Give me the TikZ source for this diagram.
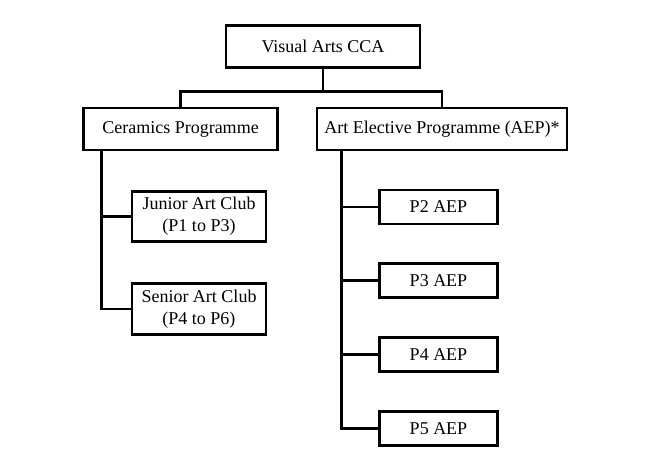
\documentclass[tikz,border=0pt]{standalone}
\usepackage{fontspec}
\setmainfont{Liberation Serif}
\usetikzlibrary{positioning}
\tikzset{
  box/.style={draw, line width=2.2pt, inner sep=0pt, align=center,
    font=\fontsize{13.5}{16.5}\selectfont},
  link/.style={line width=2.2pt},
}
\begin{document}
\begin{tikzpicture}[x=0.75pt, y=-0.75pt]
  \useasboundingbox (0,0) rectangle (662,467);
  % Top level
  \node[box, minimum width=145.5pt, minimum height=32pt] (vca) at (323,46.5) {Visual Arts CCA};
  % Programmes
  \node[box, minimum width=145pt, minimum height=31.5pt] (cer) at (180.5,129) {Ceramics Programme};
  \node[box, minimum width=187.5pt, minimum height=31.5pt] (aep) at (442,129) {Art Elective Programme (AEP)*};
  % Art clubs
  \node[box, minimum width=100.5pt, minimum height=38pt] (jun) at (199,216.5) {Junior Art Club\\(P1 to P3)};
  \node[box, minimum width=100.5pt, minimum height=38pt] (sen) at (199,309) {Senior Art Club\\(P4 to P6)};
  % AEP levels
  \foreach \n/\y in {2/207,3/280.5,4/354.5,5/428.5}
    \node[box, minimum width=89pt, minimum height=25.5pt] (p\n) at (438.5,\y) {P\n{} AEP};
  % Fork below the top box
  \draw[link] (vca.south) -- ++(0,22) coordinate (fork);
  \draw[link] (fork) -| (cer.north);
  \draw[link] (fork) -| (aep.north);
  % Left trunk
  \coordinate (ltop) at ([xshift=14.25pt]cer.south west);
  \draw[link] (ltop) |- (jun.west);
  \draw[link] (ltop) |- (sen.west);
  % Right trunk
  \coordinate (rtop) at ([xshift=19.5pt]aep.south west);
  \foreach \n in {2,3,4,5}
    \draw[link] (rtop) |- (p\n.west);
\end{tikzpicture}
\end{document}
